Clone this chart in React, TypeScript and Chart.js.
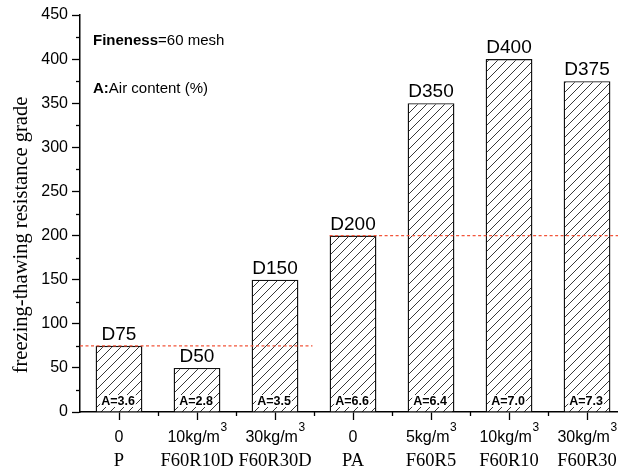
import React, { useEffect, useRef } from "react";
import { Chart, registerables } from "chart.js";

Chart.register(...registerables);

const categories = ["P", "F60R10D", "F60R30D", "PA", "F60R5", "F60R10", "F60R30"];
const dosages = ["0", "10kg/m³", "30kg/m³", "0", "5kg/m³", "10kg/m³", "30kg/m³"];
const grades = [75, 50, 150, 200, 350, 400, 375];
const gradeLabels = ["D75", "D50", "D150", "D200", "D350", "D400", "D375"];
const airContent = ["3.6", "2.8", "3.5", "6.6", "6.4", "7.0", "7.3"];
const refLineP = [
  { x: -0.5, y: 75 },
  { x: 2.48, y: 75 },
];
const refLinePA = [
  { x: 2.7, y: 200 },
  { x: 6.6, y: 200 },
];
const yTitle = "freezing-thawing resistance grade";
const noteFineness = ["Fineness", "=60 mesh"];
const noteAir = ["A:", "Air content (%)"];

const SANS = "'Liberation Sans', Arial, sans-serif";
const SERIF = "'Liberation Serif', 'Times New Roman', serif";
const RED = "#f2553a";

function makeHatch(): CanvasPattern | string {
  const s = 9;
  const c = document.createElement("canvas");
  c.width = s;
  c.height = s;
  const g = c.getContext("2d");
  if (!g) return "#fff";
  g.fillStyle = "#fff";
  g.fillRect(0, 0, s, s);
  g.strokeStyle = "#222";
  g.lineWidth = 0.9;
  g.beginPath();
  g.moveTo(-1, s + 1);
  g.lineTo(s + 1, -1);
  g.moveTo(-1, 1);
  g.lineTo(1, -1);
  g.moveTo(s - 1, s + 1);
  g.lineTo(s + 1, s - 1);
  g.stroke();
  const p = g.createPattern(c, "repeat");
  return p || "#fff";
}

const decorPlugin = {
  id: "decor",
  afterDatasetsDraw(chart: any) {
    const ctx = chart.ctx as CanvasRenderingContext2D;
    const ys = chart.scales.y;
    const meta = chart.getDatasetMeta(0);
    ctx.save();
    meta.data.forEach((bar: any, i: number) => {
      ctx.fillStyle = "#000";
      ctx.font = `19px ${SANS}`;
      ctx.textAlign = "center";
      ctx.textBaseline = "alphabetic";
      ctx.fillText(gradeLabels[i], bar.x, bar.y - 6);
      const t = "A=" + airContent[i];
      ctx.font = `bold 12.5px ${SANS}`;
      const w = ctx.measureText(t).width;
      const base = ys.getPixelForValue(0) - 7;
      ctx.fillStyle = "#fff";
      ctx.fillRect(bar.x - 1 - w / 2 - 1, base - 10, w + 2, 12);
      ctx.fillStyle = "#000";
      ctx.fillText(t, bar.x - 1, base);
    });
    ctx.restore();
  },
  afterDraw(chart: any) {
    const ctx = chart.ctx as CanvasRenderingContext2D;
    const xs = chart.scales.x;
    const ys = chart.scales.y;
    const area = chart.chartArea;
    ctx.save();
    ctx.strokeStyle = "#000";
    ctx.lineWidth = 1.3;
    for (let i = 0; i < categories.length - 1; i++) {
      const px = Math.round(xs.getPixelForValue(i + 0.5)) + 0.5;
      ctx.beginPath();
      ctx.moveTo(px, area.bottom);
      ctx.lineTo(px, area.bottom + 4);
      ctx.stroke();
    }
    for (let v = 25; v < 450; v += 50) {
      const py = Math.round(ys.getPixelForValue(v)) + 0.5;
      ctx.beginPath();
      ctx.moveTo(area.left, py);
      ctx.lineTo(area.left - 4, py);
      ctx.stroke();
    }
    ctx.fillStyle = "#000";
    ctx.textBaseline = "middle";
    categories.forEach((c, i) => {
      const px = xs.getPixelForValue(i);
      const d = dosages[i];
      const sup = d.endsWith("³");
      const main = sup ? d.slice(0, -1) : d;
      ctx.font = `16px ${SANS}`;
      const wMain = ctx.measureText(main).width;
      ctx.font = `12px ${SANS}`;
      const wSup = sup ? ctx.measureText("3").width : 0;
      const total = wMain + wSup;
      ctx.textAlign = "left";
      ctx.font = `16px ${SANS}`;
      ctx.fillText(main, px - total / 2, 438);
      if (sup) {
        ctx.font = `12px ${SANS}`;
        ctx.fillText("3", px - total / 2 + wMain + 0.5, 428);
      }
      ctx.font = `18.5px ${SERIF}`;
      ctx.textAlign = "center";
      ctx.fillText(c, px, 461);
    });
    ctx.save();
    ctx.translate(22, 235);
    ctx.rotate(-Math.PI / 2);
    ctx.font = `20.5px ${SERIF}`;
    ctx.textAlign = "center";
    ctx.textBaseline = "middle";
    ctx.fillText(yTitle, 0, 0);
    ctx.restore();
    ctx.textAlign = "left";
    ctx.textBaseline = "middle";
    ctx.font = `bold 15px ${SANS}`;
    ctx.fillText(noteFineness[0], 93, 41);
    let w = ctx.measureText(noteFineness[0]).width;
    ctx.font = `15px ${SANS}`;
    ctx.fillText(noteFineness[1], 93 + w, 41);
    ctx.font = `bold 15px ${SANS}`;
    ctx.fillText(noteAir[0], 93, 89);
    w = ctx.measureText(noteAir[0]).width;
    ctx.font = `15px ${SANS}`;
    ctx.fillText(noteAir[1], 93 + w, 89);
    ctx.restore();
  },
};

export default function App() {
  const ref = useRef<HTMLCanvasElement | null>(null);
  useEffect(() => {
    if (!ref.current) return;
    const hatch = makeHatch();
    const chart = new Chart(ref.current, {
      type: "bar",
      data: {
        datasets: [
          {
            type: "bar",
            data: grades.map((g, i) => ({ x: i, y: g })),
            backgroundColor: hatch as any,
            borderColor: "#111",
            borderWidth: 1.4,
            barPercentage: 0.6,
            categoryPercentage: 1,
            order: 2,
          } as any,
          {
            type: "line",
            data: refLineP,
            borderColor: RED,
            borderWidth: 1.2,
            borderDash: [3, 2.5],
            pointRadius: 0,
            fill: false,
            order: 1,
          } as any,
          {
            type: "line",
            data: refLinePA,
            borderColor: RED,
            borderWidth: 1.2,
            borderDash: [3, 2.5],
            pointRadius: 0,
            fill: false,
            order: 1,
          } as any,
        ],
      },
      options: {
        responsive: false,
        animation: false,
        devicePixelRatio: 1,
        layout: { padding: { top: 15, right: 0, left: 0, bottom: 0 } },
        plugins: { legend: { display: false }, tooltip: { enabled: false } },
        scales: {
          x: {
            type: "linear",
            min: -0.5,
            max: 6.397,
            offset: false,
            afterBuildTicks: (s: any) => {
              s.ticks = categories.map((_, i) => ({ value: i }));
            },
            afterFit: (s: any) => {
              s.height = 58;
            },
            ticks: { display: false },
            grid: {
              display: true,
              offset: false,
              drawOnChartArea: false,
              drawTicks: true,
              tickLength: 8,
              tickColor: "#000",
              tickWidth: 1.3,
            },
            border: { display: true, color: "#000", width: 1.5 },
          },
          y: {
            type: "linear",
            min: 0,
            max: 450,
            ticks: {
              stepSize: 50,
              color: "#000",
              padding: 4,
              font: { family: SANS, size: 16 },
            },
            afterFit: (s: any) => {
              s.width = 80;
            },
            grid: {
              display: true,
              drawOnChartArea: false,
              drawTicks: true,
              tickLength: 8,
              tickColor: "#000",
              tickWidth: 1.3,
            },
            border: { display: true, color: "#000", width: 1.5 },
          },
        },
      } as any,
      plugins: [decorPlugin],
    });
    return () => chart.destroy();
  }, []);
  return (
    <div style={{ position: "absolute", left: 0, top: 0, width: 618, height: 470, background: "#fff" }}>
      <canvas ref={ref} width={618} height={470} />
    </div>
  );
}
